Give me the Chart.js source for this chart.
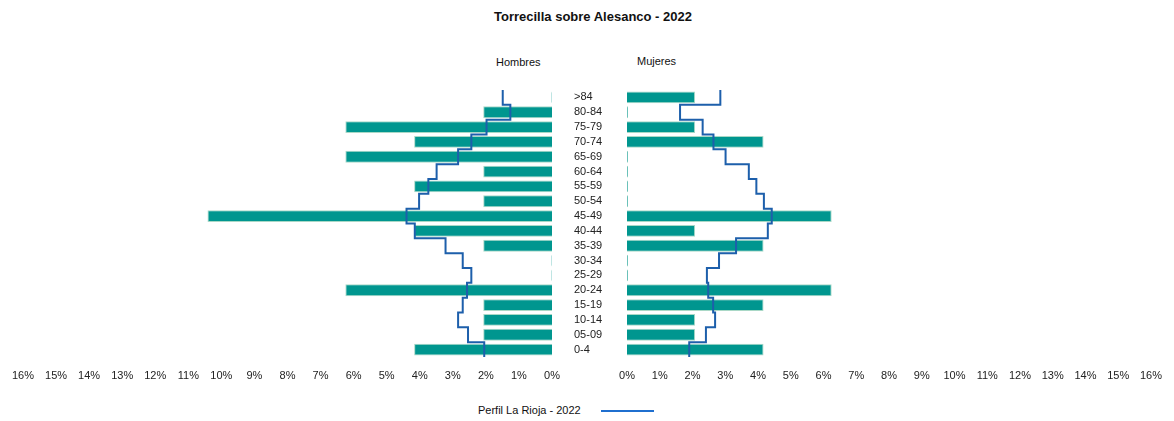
<!DOCTYPE html>
<html>
<head>
<meta charset="utf-8">
<script src="https://cdn.jsdelivr.net/npm/chart.js@4/dist/chart.umd.min.js"></script>
<style>
  html, body { margin: 0; padding: 0; background: #fff; }
  body { width: 1174px; height: 421px; position: relative; overflow: hidden; font-family: "Liberation Sans", Arial, sans-serif; color: #111; }
  .txt { position: absolute; white-space: nowrap; }
  #titulo { left: 0; width: 1186px; top: 9px; text-align: center; font-size: 13px; font-weight: bold; }
  #lblH { left: 496px; top: 56px; font-size: 11px; }
  #lblM { left: 637px; top: 55px; font-size: 11px; }
  #leyenda { left: 478px; top: 404px; font-size: 11px; }
  #leyenda span { display: inline-block; width: 53px; height: 2px; background: #1f6fcf; vertical-align: middle; margin-left: 20px; }
  .caja { position: absolute; top: 0; height: 400px; }
  #cajaH { left: 0; width: 575px; }
  #cajaM { left: 560px; width: 614px; }
</style>
</head>
<body>
<div id="titulo" class="txt">Torrecilla sobre Alesanco - 2022</div>
<div id="lblH" class="txt">Hombres</div>
<div id="lblM" class="txt">Mujeres</div>
<div class="caja" id="cajaH"><canvas id="chartH"></canvas></div>
<div class="caja" id="cajaM"><canvas id="chartM"></canvas></div>
<div id="leyenda" class="txt">Perfil La Rioja - 2022<span></span></div>
<script>
// Grupos de edad (de arriba a abajo)
const edades = ['>84', '80-84', '75-79', '70-74', '65-69', '60-64', '55-59', '50-54', '45-49',
                '40-44', '35-39', '30-34', '25-29', '20-24', '15-19', '10-14', '05-09', '0-4'];

// % sobre la población total - Torrecilla sobre Alesanco
const hombres = [0, 2.08, 6.25, 4.17, 6.25, 2.08, 4.17, 2.08, 10.42,
                 4.17, 2.08, 0, 0, 6.25, 2.08, 2.08, 2.08, 4.17];
const mujeres = [2.08, 0, 2.08, 4.17, 0, 0, 0, 0, 6.25,
                 2.08, 4.17, 0, 0, 6.25, 4.17, 2.08, 2.08, 4.17];

// Perfil La Rioja - 2022
const riojaHombres = [1.49, 1.26, 1.98, 2.44, 2.84, 3.49, 3.74, 4.02, 4.40,
                      4.15, 3.22, 2.70, 2.44, 2.57, 2.70, 2.84, 2.54, 2.05];
const riojaMujeres = [2.85, 1.62, 2.31, 2.64, 3.01, 3.72, 3.95, 4.18, 4.42,
                      4.30, 3.33, 2.81, 2.44, 2.48, 2.63, 2.69, 2.41, 1.90];

const ejeMax = 16;
const fuente = { family: '"Liberation Sans", Arial, sans-serif', size: 11 };
const colorBarra = '#00968f';
const colorBorde = '#a9d8c6';
const colorPerfil = '#1d5fab';

// escalones: cada grupo ocupa su banda completa
function escalones(valores) {
    const puntos = [];
    valores.forEach((v, i) => {
        puntos.push({ x: v, y: i - 0.5 });
        puntos.push({ x: v, y: i + 0.5 });
    });
    return puntos;
}

function crearPiramide(canvasId, valores, perfil, izquierda) {
    const ctx = document.getElementById(canvasId).getContext('2d');
    return new Chart(ctx, {
        type: 'bar',
        data: {
            labels: edades,
            datasets: [{
                type: 'line',
                label: 'Perfil La Rioja - 2022',
                data: escalones(perfil),
                yAxisID: 'yPerfil',
                borderColor: colorPerfil,
                borderWidth: 2,
                pointRadius: 0,
                fill: false,
                tension: 0,
                order: 0
            }, {
                label: izquierda ? 'Hombres' : 'Mujeres',
                data: valores,
                backgroundColor: colorBarra,
                borderColor: colorBorde,
                borderWidth: 1,
                minBarLength: 1,
                grouped: false,
                barPercentage: 0.8,
                categoryPercentage: 1,
                order: 1
            }]
        },
        options: {
            indexAxis: 'y',
            responsive: true,
            maintainAspectRatio: false,
            animation: false,
            layout: {
                padding: izquierda
                    ? { top: 90, bottom: 0, left: 20, right: 23 }
                    : { top: 90, bottom: 0, left: 14, right: 17 }
            },
            scales: {
                x: {
                    type: 'linear',
                    min: 0,
                    max: ejeMax,
                    reverse: izquierda,
                    border: { display: false },
                    grid: { display: false, drawTicks: false },
                    ticks: {
                        stepSize: 1,
                        padding: 12,
                        color: '#222',
                        font: fuente,
                        maxRotation: 0,
                        autoSkip: false,
                        callback: v => v + '%'
                    },
                    afterFit: s => { s.height = 43; }
                },
                y: {
                    type: 'category',
                    display: !izquierda,
                    border: { display: false },
                    grid: { display: false, drawTicks: false },
                    ticks: {
                        crossAlign: 'far',
                        padding: 0,
                        color: '#222',
                        font: fuente,
                        autoSkip: false
                    },
                    afterFit: s => { if (!izquierda) s.width = 53; }
                },
                yPerfil: {
                    type: 'linear',
                    display: false,
                    offset: false,
                    grid: { offset: false },
                    min: -0.5,
                    max: edades.length - 0.5,
                    reverse: true
                }
            },
            plugins: {
                legend: { display: false },
                title: { display: false },
                tooltip: { enabled: false }
            }
        }
    });
}

document.addEventListener('DOMContentLoaded', () => {
    crearPiramide('chartH', hombres, riojaHombres, true);
    crearPiramide('chartM', mujeres, riojaMujeres, false);
});
</script>
</body>
</html>
